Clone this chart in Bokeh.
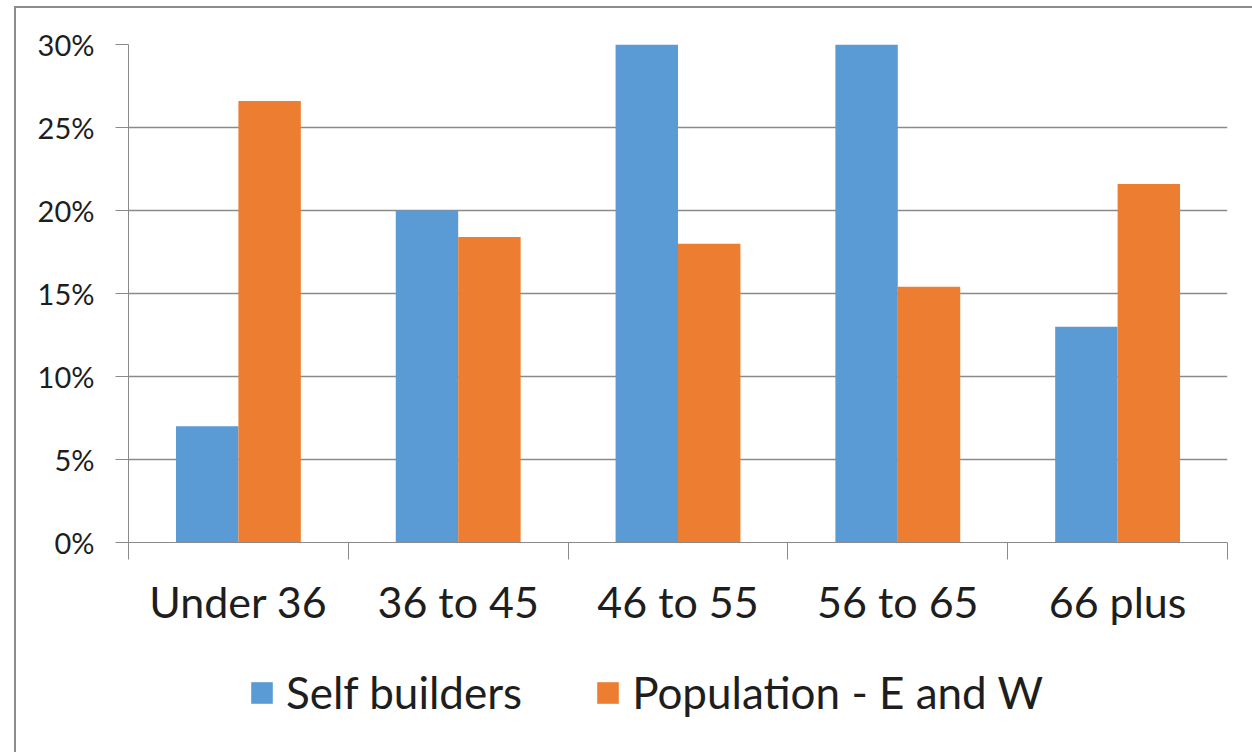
from bokeh.plotting import figure
from bokeh.layouts import column
from bokeh.models import (Range1d, FixedTicker, NumeralTickFormatter, Legend,
                          LegendItem, ColumnDataSource)
from bokeh.transform import dodge
from bokeh.embed import file_html
from bokeh.resources import INLINE

# Age bands and share of each group (as fractions)
categories = ["Under 36", "36 to 45", "46 to 55", "56 to 65", "66 plus"]
self_builders = [0.07, 0.20, 0.30, 0.30, 0.13]
population_ew = [0.266, 0.184, 0.180, 0.154, 0.216]
series_names = ["Self builders", "Population - E and W"]
y_ticks = [0.0, 0.05, 0.10, 0.15, 0.20, 0.25, 0.30]

BLUE = "#5B9BD5"
ORANGE = "#ED7D31"
GRID = "#8A8A8A"
TEXT = "#1E1E1E"
FONT = "Lato"
BORDER = "2px solid #8C8C8C"

centers = [i + 0.5 for i in range(len(categories))]
source = ColumnDataSource(data=dict(x=centers, sb=self_builders, pop=population_ew))
bw = 0.284


def add_bars(fig, visible=True):
    """Clustered bars: self builders on the left, population on the right."""
    a = fig.vbar(x=dodge("x", -bw / 2, range=fig.x_range), top="sb", width=bw,
                 source=source, fill_color=BLUE, line_color=None, visible=visible)
    b = fig.vbar(x=dodge("x", bw / 2, range=fig.x_range), top="pop", width=bw,
                 source=source, fill_color=ORANGE, line_color=None, visible=visible)
    return a, b


# ---- main chart ----
p = figure(width=1238, height=632, output_backend="svg", toolbar_location=None,
           x_range=Range1d(0, len(categories)), y_range=Range1d(0, 0.30),
           min_border_left=112, min_border_right=27, min_border_top=36,
           min_border_bottom=98)
p.margin = (6, 0, 0, 14)
p.styles = {"border-top": BORDER, "border-left": BORDER}
p.outline_line_color = None
p.background_fill_color = "white"
p.border_fill_color = "white"

add_bars(p)

# y axis: percent ticks every 5%
p.yaxis.ticker = FixedTicker(ticks=y_ticks)
p.yaxis.formatter = NumeralTickFormatter(format="0%")
p.yaxis.minor_tick_line_color = None
p.yaxis.major_tick_in = 0
p.yaxis.major_tick_out = 13
p.yaxis.axis_line_color = GRID
p.yaxis.major_tick_line_color = GRID
p.yaxis.major_label_text_font = FONT
p.yaxis.major_label_text_font_size = "29px"
p.yaxis.major_label_text_color = TEXT
p.yaxis.major_label_standoff = 21

# x axis: labels at group centres, separator ticks between groups
p.xaxis.ticker = FixedTicker(ticks=centers, minor_ticks=list(range(len(categories) + 1)))
p.xaxis.major_label_overrides = {c: lab for c, lab in zip(centers, categories)}
p.xaxis.major_tick_line_color = None
p.xaxis.minor_tick_line_color = GRID
p.xaxis.minor_tick_in = 0
p.xaxis.minor_tick_out = 17
p.xaxis.axis_line_color = GRID
p.xaxis.major_label_text_font = FONT
p.xaxis.major_label_text_font_size = "43px"
p.xaxis.major_label_text_color = TEXT
p.xaxis.major_label_standoff = 16

p.xgrid.grid_line_color = None
p.ygrid.ticker = FixedTicker(ticks=y_ticks)
p.ygrid.grid_line_color = GRID
p.ygrid.grid_line_width = 1.3

# ---- legend strip under the chart ----
lf = figure(width=1238, height=114, output_backend="svg", toolbar_location=None,
            x_range=Range1d(0, len(categories)), y_range=Range1d(0, 0.30),
            x_axis_location=None, y_axis_location=None,
            min_border_left=112, min_border_right=27, min_border_top=0,
            min_border_bottom=0)
lf.margin = (0, 0, 0, 14)
lf.styles = {"border-left": BORDER}
lf.outline_line_color = None
lf.grid.grid_line_color = None
lf.border_fill_color = "white"

# hidden copies of the bar renderers, used only as legend swatches
k1, k2 = add_bars(lf, visible=False)

legend = Legend(items=[LegendItem(label=series_names[0], renderers=[k1]),
                       LegendItem(label=series_names[1], renderers=[k2])],
                orientation="horizontal", location=(120, 34),
                glyph_width=27, glyph_height=27, label_standoff=11, spacing=72,
                padding=0, margin=0, inactive_fill_alpha=0,
                label_text_font=FONT, label_text_font_size="44px",
                label_text_color=TEXT, border_line_color=None,
                background_fill_alpha=0)
lf.add_layout(legend, "center")

open("out.html", "w").write(file_html(column(p, lf, spacing=0), INLINE))
